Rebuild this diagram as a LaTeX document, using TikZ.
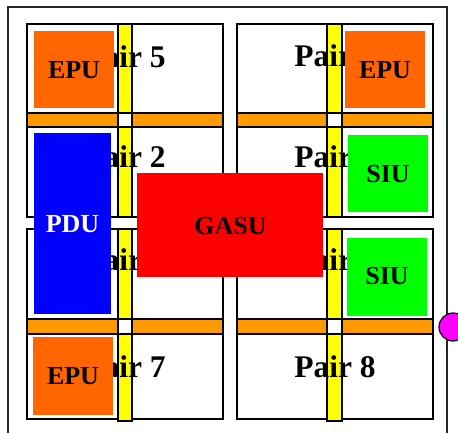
\documentclass[tikz,border=0pt]{standalone}
\usepackage{fontspec}
\setmainfont{Liberation Serif}
\definecolor{epuc}{HTML}{FF6600}
\definecolor{barc}{HTML}{FF9900}
\definecolor{yelc}{HTML}{FFFF00}
\definecolor{siuc}{HTML}{00FF00}
\definecolor{pduc}{HTML}{0000FF}
\definecolor{gasuc}{HTML}{FF0000}
\definecolor{magc}{HTML}{FF00FF}
\tikzset{
  cellbox/.style={draw=black, line width=1.4bp, fill=white},
  hbar/.style={draw=black, line width=1.4bp, fill=barc},
  vbar/.style={draw=black, line width=1.4bp, fill=yelc},
  junc/.style={draw=black, line width=1.4bp, fill=white},
  pairlbl/.style={font=\bfseries\fontsize{31.5bp}{36bp}\selectfont, anchor=base, inner sep=0pt},
  unit/.style={font=\bfseries\fontsize{26bp}{30bp}\selectfont, inner sep=0pt, minimum width=#1},
}
\begin{document}
\begin{tikzpicture}[x=1bp,y=-1bp]
\useasboundingbox (0,0) rectangle (458,432);
\clip (0,0) rectangle (458,432);
% outer frame
\draw[line width=1.1bp, black!85] (8,440) -- (8,7) -- (447,7) -- (447,440);
% blocks: left column x 27-223, right column x 237-433
\foreach \xa/\xb/\ya/\yb/\yc/\yd/\ye in {27/223/24/217/113/127/217, 237/433/24/217/113/127/217, 27/223/229/419/319/334/421, 237/433/229/419/319/334/421}{
  \draw[cellbox] (\xa,\ya) rectangle (\xb,\yb);
  \draw[hbar] (\xa,\yc) rectangle (\xb,\yd);
}
% yellow bars
\draw[vbar] (118,24) rectangle (132,217);
\draw[vbar] (327,24) rectangle (342,217);
\draw[vbar] (118,229) rectangle (132,421);
\draw[vbar] (327,229) rectangle (342,421);
% junctions
\draw[junc] (118,113) rectangle (132,127);
\draw[junc] (327,113) rectangle (342,127);
\draw[junc] (118,319) rectangle (132,334);
\draw[junc] (327,319) rectangle (342,334);
% pair labels
\node[pairlbl] (p5) at (125,67) {Pair 5};
\node[pairlbl] (p6) at (335,66) {Pair 6};
\node[pairlbl] (p2) at (125,167) {Pair 2};
\node[pairlbl] (p4) at (335,167) {Pair 4};
\node[pairlbl] (p1) at (125,270) {Pair 1};
\node[pairlbl] (p3) at (335,270) {Pair 3};
\node[pairlbl] (p7) at (125,377) {Pair 7};
\node[pairlbl] (p8) at (335,377) {Pair 8};
% units
\fill[epuc] (34,31) rectangle (114,108);
\node[unit=0pt] (epu1) at (74,70) {EPU};
\fill[epuc] (345,31) rectangle (425,108);
\node[unit=0pt] (epu2) at (385,70) {EPU};
\fill[epuc] (33,337) rectangle (113,415);
\node[unit=0pt] (epu3) at (73,376) {EPU};
\fill[pduc] (34,133) rectangle (111,314);
\node[unit=0pt, text=white] (pdu) at (72.5,224) {PDU};
\fill[siuc] (348,135) rectangle (428,212);
\node[unit=0pt] (siu1) at (388,174) {SIU};
\fill[siuc] (347,238) rectangle (427,316);
\node[unit=0pt] (siu2) at (387,276) {SIU};
\fill[gasuc] (137,173) rectangle (323,277);
\node[unit=0pt] (gasu) at (230.5,226) {GASU};
% magenta port
\draw[line width=1.2bp, fill=magc] (453,327) circle (14);
\end{tikzpicture}
\end{document}
